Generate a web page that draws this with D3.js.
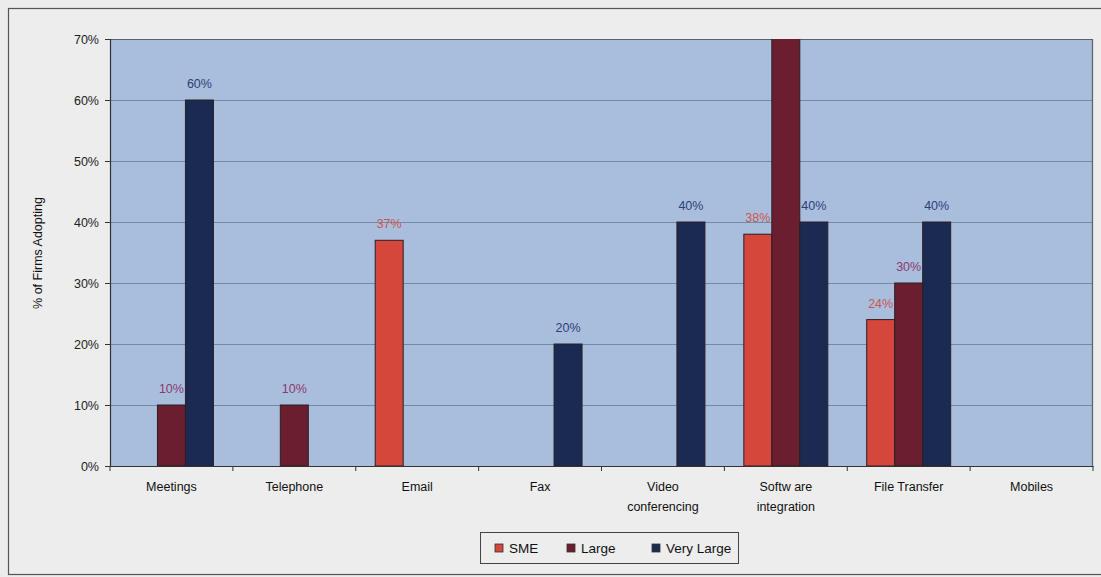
<!DOCTYPE html>
<html>
<head>
<meta charset="utf-8">
<script src="https://cdn.jsdelivr.net/npm/d3@7"></script>
<style>
  html, body { margin: 0; padding: 0; background: #ececec; }
  svg { display: block; font-family: "Liberation Sans", Arial, sans-serif; }
</style>
</head>
<body>
<svg id="chart" width="1101" height="577"></svg>
<script>
// Adoption of communication methods by firm size
const categories = ["Meetings", "Telephone", "Email", "Fax", "Video\nconferencing", "Softw are\nintegration", "File Transfer", "Mobiles"];
const seriesNames = ["SME", "Large", "Very Large"];
const smeValues = [0, 0, 37, 0, 0, 38, 24, 0];
const largeValues = [10, 10, 0, 0, 0, 75, 30, 0];
const veryLargeValues = [60, 0, 0, 20, 40, 40, 40, 0];
const yTicks = [0, 10, 20, 30, 40, 50, 60, 70];

const seriesValues = [smeValues, largeValues, veryLargeValues];
const barColors = ["#d4473a", "#6b1e2e", "#1b2a52"];
const labelColors = ["#cc564e", "#8a3a6e", "#2b3f78"];

const svg = d3.select("#chart");
const plot = { left: 110, top: 39, right: 1093, bottom: 466 };

// outer frame
svg.append("rect").attr("x", 8.5).attr("y", 8.5).attr("width", 1110).attr("height", 566)
  .attr("fill", "#ededed").attr("stroke", "#555").attr("stroke-width", 1.2);

const x = d3.scaleBand().domain(d3.range(categories.length)).range([plot.left, plot.right]).paddingInner(0).paddingOuter(0);
const inner = d3.scaleBand().domain(d3.range(seriesNames.length)).range([0, x.bandwidth()]).paddingInner(0).paddingOuter(0.695);
const y = d3.scaleLinear().domain([0, 70]).range([plot.bottom, plot.top]);

// plot background
svg.append("rect").attr("x", plot.left).attr("y", plot.top)
  .attr("width", plot.right - plot.left).attr("height", plot.bottom - plot.top)
  .attr("fill", "#a9bedc");

// gridlines
svg.append("g").selectAll("line").data(yTicks.filter(t => t > 0 && t < 70)).join("line")
  .attr("x1", plot.left).attr("x2", plot.right)
  .attr("y1", d => Math.round(y(d)) + 0.5).attr("y2", d => Math.round(y(d)) + 0.5)
  .attr("stroke", "#7488a8").attr("stroke-width", 1);

// plot border (top, right)
svg.append("path")
  .attr("d", `M${plot.left},${plot.top + 0.5}H${plot.right - 0.5}V${plot.bottom}`)
  .attr("fill", "none").attr("stroke", "#5a6270").attr("stroke-width", 1.2);

// clip for bars exceeding the axis maximum
svg.append("clipPath").attr("id", "plotClip").append("rect")
  .attr("x", plot.left).attr("y", plot.top)
  .attr("width", plot.right - plot.left).attr("height", plot.bottom - plot.top);

// bars
const barData = [];
seriesValues.forEach((vals, s) => vals.forEach((v, i) => barData.push({ s, i, v })));

svg.append("g").attr("clip-path", "url(#plotClip)")
  .selectAll("rect").data(barData.filter(d => d.v > 0)).join("rect")
  .attr("x", d => x(d.i) + inner(d.s))
  .attr("y", d => y(d.v))
  .attr("width", inner.bandwidth())
  .attr("height", d => y(0) - y(d.v))
  .attr("fill", d => barColors[d.s])
  .attr("stroke", "#2a1f24").attr("stroke-width", 1);

// value labels
svg.append("g").selectAll("text")
  .data(barData.filter(d => d.v > 0 && d.v <= 70)).join("text")
  .attr("x", d => x(d.i) + inner(d.s) + inner.bandwidth() / 2)
  .attr("y", d => y(d.v) - 12)
  .attr("text-anchor", "middle")
  .attr("font-size", 12.5)
  .attr("fill", d => labelColors[d.s])
  .text(d => d.v + "%");

// y axis
const yAxis = svg.append("g").attr("transform", `translate(${plot.left},0)`)
  .call(d3.axisLeft(y).tickValues(yTicks).tickFormat(d => d + "%").tickSize(5).tickPadding(6));
yAxis.select(".domain").attr("stroke", "#333").attr("stroke-width", 1.2);
yAxis.selectAll(".tick line").attr("stroke", "#333");
yAxis.selectAll(".tick text").attr("font-size", 12.5).attr("fill", "#222")
  .attr("font-family", "Liberation Sans, Arial, sans-serif");

// x axis
const xAxis = svg.append("g").attr("transform", `translate(0,${plot.bottom})`)
  .call(d3.axisBottom(x).tickValues([]).tickSizeOuter(0));
xAxis.select(".domain").attr("stroke", "#333").attr("stroke-width", 1.2);
xAxis.selectAll("line.sep").data(d3.range(categories.length + 1)).join("line")
  .attr("class", "sep")
  .attr("x1", d => plot.left + d * x.step()).attr("x2", d => plot.left + d * x.step())
  .attr("y1", 0).attr("y2", 5).attr("stroke", "#333");

// category labels
const catLabels = svg.append("g").selectAll("text").data(categories).join("text")
  .attr("x", (d, i) => x(i) + x.bandwidth() / 2)
  .attr("y", 491)
  .attr("text-anchor", "middle")
  .attr("font-size", 12.5)
  .attr("fill", "#111");
catLabels.each(function (d) {
  const lines = d.split("\n");
  const t = d3.select(this);
  lines.forEach((ln, k) => {
    t.append("tspan").attr("x", t.attr("x")).attr("dy", k === 0 ? 0 : 20).text(ln);
  });
});

// y axis title
svg.append("text")
  .attr("transform", "translate(42,253) rotate(-90)")
  .attr("text-anchor", "middle")
  .attr("font-size", 12.5)
  .attr("fill", "#111")
  .text("% of Firms Adopting");

// legend
const legend = svg.append("g");
legend.append("rect").attr("x", 480.5).attr("y", 532.5).attr("width", 258).attr("height", 31)
  .attr("fill", "#ededed").attr("stroke", "#444").attr("stroke-width", 1);
const legendX = [495, 567, 652];
seriesNames.forEach((name, s) => {
  legend.append("rect").attr("x", legendX[s]).attr("y", 544).attr("width", 8).attr("height", 8)
    .attr("fill", barColors[s]).attr("stroke", "#333").attr("stroke-width", 0.8);
  legend.append("text").attr("x", legendX[s] + 14).attr("y", 553)
    .attr("font-size", 13.5).attr("fill", "#111").text(name);
});
</script>
</body>
</html>
